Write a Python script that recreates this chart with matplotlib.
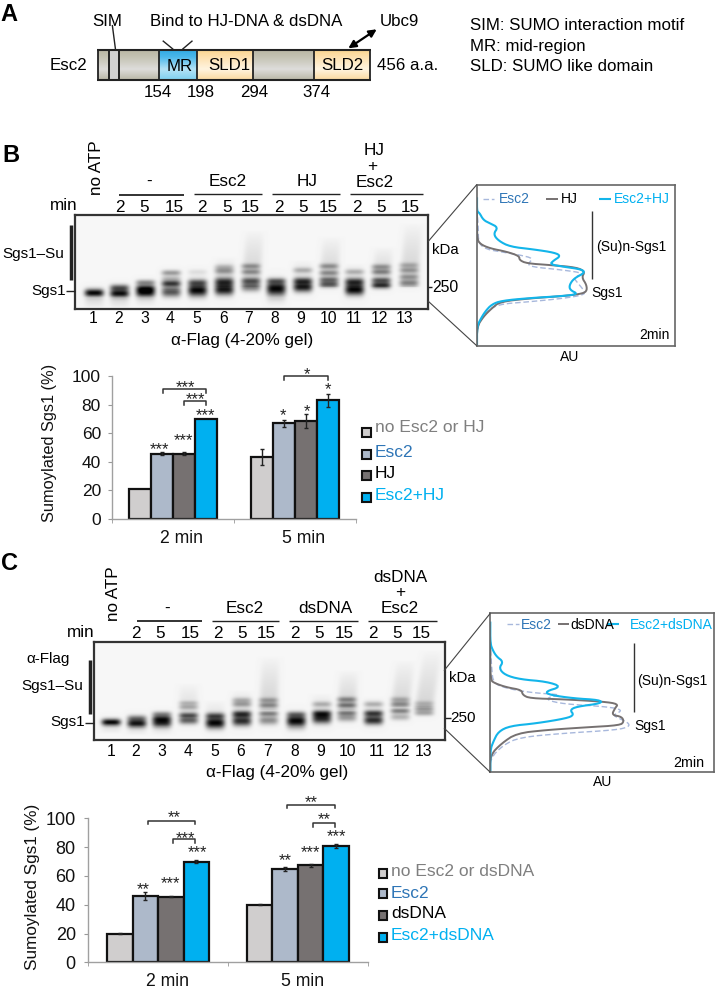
import numpy as np
import matplotlib
matplotlib.use('Agg')
import matplotlib.pyplot as plt
from matplotlib.patches import Rectangle

plt.rcParams['font.family'] = ['Liberation Sans', 'DejaVu Sans']

W, H = 715, 990
# ---------- bar data
groups = ['2 min', '5 min']
b_names = ['no Esc2 or HJ', 'Esc2', 'HJ', 'Esc2+HJ']
b_2min = [21, 45.5, 45.5, 70]
b_5min = [43, 67, 68.5, 83]
b_2min_err = [0, 1, 1, 0]
b_5min_err = [5.5, 2.5, 5, 4.5]
c_names = ['no Esc2 or dsDNA', 'Esc2', 'dsDNA', 'Esc2+dsDNA']
c_2min = [20, 46, 45.5, 70]
c_5min = [40, 65, 67.5, 81]
c_2min_err = [0.5, 2.5, 0.3, 0.8]
c_5min_err = [0.3, 1.5, 1, 1.5]
bar_colors = ['#d0cece', '#adb9ca', '#767171', '#00b0f0']
text_colors = ['#7f7f7f', '#2e75b6', '#000000', '#00b0f0']

# ---------- densitometry traces (x intensity, y migration)
b_cyan = [(141,527),(141,470),(150,450),(165,425),(185,403),(215,392),(300,384),(400,378),(445,372),(420,360),(418,345),(432,325),(465,308),(455,298),(400,290),(360,283),(370,272),(392,258),(375,248),(310,238),(240,230),(205,212),(190,192),(204,172),(180,160),(160,150),(148,128),(141,125),(141,85)]
b_grey = [(141,527),(141,470),(160,440),(185,415),(210,395),(300,385),(400,378),(450,372),(470,365),(470,345),(455,322),(465,305),(440,292),(360,285),(290,280),(268,270),(268,258),(230,245),(180,235),(150,222),(141,205),(141,125)]
b_dash = [(141,527),(141,470),(165,430),(200,403),(300,395),(400,385),(460,375),(465,365),(440,335),(430,322),(465,310),(400,300),(300,290),(295,280),(310,265),(270,255),(210,245),(170,238),(145,220),(145,170),(141,125)]
c_cyan = [(181,517),(181,450),(190,425),(205,395),(240,378),(320,370),(410,355),(432,345),(420,330),(440,320),(515,310),(510,300),(430,295),(360,285),(345,275),(395,260),(350,245),(270,238),(225,225),(207,205),(220,185),(200,170),(188,150),(181,130),(181,68)]
c_grey = [(181,517),(181,465),(215,430),(260,400),(350,390),(470,382),(570,376),(582,365),(575,350),(545,345),(555,325),(565,312),(520,305),(400,298),(300,295),(278,285),(275,270),(230,262),(195,250),(181,240),(181,130)]
c_dash = [(181,517),(181,475),(220,435),(270,412),(400,400),(560,390),(598,380),(595,368),(560,352),(550,345),(580,330),(530,320),(400,312),(350,300),(360,290),(400,285),(330,280),(285,275),(230,265),(190,250),(185,205),(181,130)]

# ---------- gel lanes: bands (y, strength, sigma), smears (top, bottom, strength, drift)
b_lane_x = [282,358,436,513,592,672,752,828,908,986,1063,1143,1226]
b_bands = [
 [(488,1.0,5)],
 [(490,.95,5),(473,.6,4)],
 [(488,.85,6),(475,.8,5),(457,.35,3)],
 [(485,.6,7),(460,.7,4),(445,.15,3),(428,.3,3)],
 [(480,1,9),(457,.5,4),(425,.05,3)],
 [(478,.9,8),(455,.7,6),(422,.3,4),(410,.15,3)],
 [(470,.45,6),(452,.5,4),(425,.3,3),(408,.3,3)],
 [(475,1,11),(452,.4,3)],
 [(470,.9,7),(452,.6,4),(420,.2,3)],
 [(462,.5,4),(448,.4,3),(428,.3,3),(408,.3,3)],
 [(478,1,8),(455,.7,5),(425,.2,3)],
 [(465,.7,4),(450,.5,3),(425,.35,3),(410,.3,3)],
 [(458,.3,4),(440,.25,3),(420,.25,3),(405,.2,3)],
]
b_smears = [
 [(505,535,.10,0)],[(505,535,.10,0)],[(505,530,.07,0)],[(430,480,.10,0)],
 [(420,470,.08,0)],[(380,470,.12,5)],[(300,470,.16,12)],[(505,530,.05,0)],
 [(390,460,.10,0)],[(320,470,.16,8)],[(400,470,.10,0)],[(350,470,.16,8)],[(280,470,.16,14)],
]
c_lane_x = [333,410,485,565,645,725,805,888,965,1040,1120,1200,1272]
c_bands = [
 [(516,1,4)],
 [(520,.9,5),(505,.45,4)],
 [(518,.8,6),(505,.65,4),(492,.35,3)],
 [(510,.55,5),(495,.5,3),(470,.2,3),(458,.15,2)],
 [(518,1,8),(497,.55,4)],
 [(512,.8,7),(492,.75,4),(462,.25,3),(450,.2,3)],
 [(510,.35,6),(490,.4,3),(465,.3,3),(450,.25,3)],
 [(512,1,9),(492,.35,3)],
 [(505,.8,7),(490,.7,4),(462,.2,3)],
 [(502,.3,5),(488,.4,3),(465,.4,3),(448,.35,3)],
 [(510,.8,6),(490,.7,4),(462,.2,3)],
 [(500,.2,4),(482,.4,3),(462,.3,3),(448,.2,3)],
 [(488,.25,3),(475,.3,3),(460,.15,3)],
]
c_smears = [
 [(525,550,.08,0)],[(530,555,.08,0)],[(530,555,.06,0)],[(400,500,.10,0)],
 [(450,500,.06,0)],[(420,490,.10,0)],[(320,480,.14,6)],[(530,550,.05,0)],
 [(430,490,.08,0)],[(360,480,.14,6)],[(440,490,.06,0)],[(330,470,.12,16)],[(300,470,.12,25)],
]

fig = plt.figure(figsize=(W/100, H/100), dpi=100)
ov = fig.add_axes([0, 0, 1, 1], zorder=5)
ov.set_xlim(0, W); ov.set_ylim(H, 0); ov.axis('off'); ov.patch.set_alpha(0)

def T(x, y, s, size=10.5, ha='center', va='center', **k):
    ov.text(x, y, s, fontsize=size, ha=ha, va=va, **k)
def L(xs, ys, c='k', lw=1, **k):
    ov.plot(xs, ys, color=c, lw=lw, solid_capstyle='butt', **k)
def px_axes(x0, y0, x1, y1, **k):
    return fig.add_axes([x0/W, 1-y1/H, (x1-x0)/W, (y1-y0)/H], **k)
def chaikin(p, n=2):
    p = np.array(p, float)
    for _ in range(n):
        q = np.empty((2*len(p), 2))
        q[0::2] = .75*p + .25*np.roll(p, -1, 0)
        q[1::2] = .25*p + .75*np.roll(p, -1, 0)
        p = np.vstack([p[:1], q[:-2], p[-1:]])
    return p

# ---------- panel A
def grad(x0, x1, stops):
    a = px_axes(x0, 49.5, x1, 80)
    a.axis('off')
    rows = np.linspace(0, 1, 64)
    arr = np.stack([np.interp(rows, [0, .25, .65, 1], [s[i] for s in stops]) for i in range(3)], -1)
    a.imshow(arr[:, None, :], aspect='auto', extent=(0, 1, 1, 0))
def hx(s):
    return matplotlib.colors.to_rgb(s)
grey_st = [hx('#b8b5a2'), hx('#c4c2b2'), hx('#dedddb'), hx('#bab7a6')]
grad(97.7, 159.3, grey_st); grad(252.7, 314, grey_st)
grad(159.3, 197.3, [hx('#2fa9e2'), hx('#4ab7ea'), hx('#b5e3f6'), hx('#7fd0f0')])
orange = [hx('#fbd48c'), hx('#fde0ae'), hx('#fff4e0'), hx('#fbd9a0')]
grad(197.3, 252.7, orange); grad(314, 370, orange)
ov.add_patch(Rectangle((109, 49.5), 10, 30.5, fc='#d2d2d2', ec='#222222', lw=1.4))
for xx in (97.7, 159.3, 197.3, 252.7, 314, 370):
    L([xx, xx], [49.5, 80], '#222222', 1.3)
L([97, 371], [49.5, 49.5], '#222222', 1.5); L([97, 371], [80, 80], '#222222', 1.5)
T(9, 14.5, 'A', 17, fontweight='bold')
A_SZ = 12.2
T(106.8, 21, 'SIM', A_SZ); T(246, 21, 'Bind to HJ-DNA & dsDNA', A_SZ); T(399.6, 21, 'Ubc9', A_SZ)
L([112.3, 115.5], [25, 49.5], '#222222', 1)
L([162.7, 173.2], [40.7, 49.3], '#222222', 1); L([192.5, 182.4], [40.7, 49.3], '#222222', 1)
ov.annotate('', xy=(376.7, 29.3), xytext=(348.3, 48.3), arrowprops=dict(arrowstyle='<|-|>', color='k', lw=1.6, shrinkA=0, shrinkB=0, mutation_scale=11))
T(68.7, 66, 'Esc2', A_SZ); T(408, 66, '456 a.a.', A_SZ)
T(179.7, 66.5, 'MR', A_SZ); T(229, 66, 'SLD1', A_SZ); T(342.8, 66, 'SLD2', A_SZ)
for x_, s_ in [(157.7, '154'), (200.7, '198'), (253.9, '294'), (316.7, '374')]:
    T(x_, 92.5, s_, A_SZ)
for y_, s_ in [(26, 'SIM: SUMO interaction motif'), (46, 'MR: mid-region'), (66.7, 'SLD: SUMO like domain')]:
    T(469.8, y_, s_, A_SZ, ha='left')

# ---------- gels
def gel(box, oy, lane_x, bands, smears, lw_half=9.0):
    x0, y0, x1, y1 = box
    xs = np.arange(x0, x1, 0.5); ys = np.arange(y0, y1, 0.5)
    X, Y = np.meshgrid(xs, ys)
    im = np.zeros_like(X)
    for lx, bl, sm in zip(lane_x, bands, smears):
        cx = lx/3
        prof = np.exp(-np.abs((X-cx)/lw_half)**4)
        for yb, s, sg in bl:
            im += s*prof*np.exp(-.5*((Y-(oy+yb/3))/((sg+2.5)/3))**2)
        for top, bot, s, drift in sm:
            t_, b_ = oy+top/3, oy+bot/3
            f = np.clip((Y-t_)/(b_-t_), 0, 1)
            if top > 500:
                f = 1-f
            shift = drift/3*(1-f) if top <= 500 else 0
            pr = np.exp(-np.abs((X-cx-shift)/lw_half)**4)
            im += .7*s*pr*f*((Y > t_) & (Y < b_))
    g = 0.965-0.95*np.clip(im, 0, 1)**0.8
    a = px_axes(x0, y0, x1, y1)
    a.imshow(g, cmap='gray', vmin=0, vmax=1, aspect='auto', interpolation='bilinear')
    a.set_xticks([]); a.set_yticks([])
    for s in a.spines.values():
        s.set_linewidth(1.6); s.set_color('#333333')

gel((75, 215, 428, 309), 130, b_lane_x, b_bands, b_smears)
gel((94, 642, 445, 740), 550, c_lane_x, c_bands, c_smears)

def gel_text(oy, heads, rules, minxy, min_x, min_y, num_x, num_y, flag, noatp, sz=12.3):
    for x_, y_, s_ in heads:
        T(x_/3, oy+y_/3, s_, sz)
    for i, (a_, b_, y_) in enumerate(rules):
        L([a_/3, b_/3], [oy+y_/3]*2, '#222222', 1.3 if i == 0 else 1.0)
    T(minxy[0]/3, oy+minxy[1]/3, 'min', sz)
    labs = ['2', '5', '15']*4
    for x_, s_ in zip(min_x, labs):
        T(x_/3, oy+min_y/3, s_, sz)
    for i, x_ in enumerate(num_x):
        T(x_/3, oy+num_y/3, str(i+1), 11.3)
    T(flag[0]/3, oy+flag[1]/3, '\u03b1-Flag (4-20% gel)', sz)
    T(noatp[0]/3, oy+noatp[1]/3, 'no ATP', sz, rotation=90)

gel_text(130, [(447,155,'-'),(683,155,'Esc2'),(921,155,'HJ'),(1121,62,'HJ'),(1116,108,'+'),(1125,157,'Esc2')],
         [(358,553,195),(583,785,192),(815,1020,192),(1050,1268,192)], (190,228),
         [361,433,524,607,680,752,838,910,985,1071,1143,1232], 232,
         [278,356,434,511,591,670,746,825,903,985,1061,1138,1213], 565, (727,630), (290,112))
gel_text(550, [(500,175,'-'),(735,175,'Esc2'),(975,175,'dsDNA'),(1200,82,'dsDNA'),(1200,128,'+'),(1198,175,'Esc2')],
         [(410,606,212),(636,838,212),(868,1073,212),(1103,1310,212)], (243,247),
         [408,480,570,655,727,800,885,958,1033,1118,1190,1265], 250,
         [333,408,486,565,643,723,802,885,963,1042,1130,1205,1272], 603, (830,667), (342,132))

T(11, 156, 'B', 17, fontweight='bold'); T(9, 564, 'C', 17, fontweight='bold')
# gel side labels B
T(33, 254, 'Sgs1\u2013Su', 11); L([70.7, 70.7], [225, 280], '#222222', 2.5)
T(65.5, 291, 'Sgs1', 11, ha='right'); L([65.5, 75], [291.3, 291.3], '#222222', 1)
T(431.7, 250, 'kDa', 10.8, ha='left'); L([428, 432], [287, 287], '#222222', 1); T(432.5, 287.3, '250', 11.3, ha='left')
# gel side labels C
T(47.7, 659, '\u03b1-Flag', 11); T(52.7, 686, 'Sgs1\u2013Su', 11); L([90, 90], [660, 714.3], '#222222', 2.5)
T(84.5, 722, 'Sgs1', 11, ha='right'); L([84.5, 94], [722.7, 722.7], '#222222', 1)
T(449, 677.7, 'kDa', 10.8, ha='left'); L([445, 451], [718.3, 718.3], '#222222', 1); T(450.7, 718.3, '250', 11, ha='left')

# ---------- insets
def inset(box, lim, traces):
    a = px_axes(*box, zorder=3)
    a.set_xlim(lim[0], lim[1]); a.set_ylim(lim[3], lim[2])
    a.set_xticks([]); a.set_yticks([])
    for s in a.spines.values():
        s.set_linewidth(1.2); s.set_color('#666666')
    for tr, c, lw, ls in traces:
        p = chaikin(tr)
        a.plot(p[:, 0], p[:, 1], color=c, lw=lw, ls=ls, solid_joinstyle='round')

dash_c = '#a8b8dc'; grey_c = '#767171'; cy_c = '#13b5ea'
inset((476.7, 184.7, 675, 345.7), (140, 735, 44, 527),
      [(b_dash, dash_c, 1, (0, (4, 2))), (b_grey, grey_c, 1.4, '-'), (b_cyan, cy_c, 1.5, '-')])
inset((490.3, 613.3, 714, 772.3), (181, 852, 40, 517),
      [(c_dash, dash_c, 1, (0, (4, 2))), (c_grey, grey_c, 1.4, '-'), (c_cyan, cy_c, 1.5, '-')])
L([428, 476.7], [241.7, 184.7], '#444444', .8); L([428, 476.7], [301, 345.7], '#444444', .8)
L([444, 490.3], [670.7, 613.3], '#444444', .8); L([444, 490.3], [728, 772.3], '#444444', .8)

zx = lambda v: 430+v/3
by = lambda v: 170+v/3
cy = lambda v: 600+v/3
L([zx(160), zx(192)], [by(88)]*2, dash_c, 1, ls=(0, (4, 2)))
T(zx(207), by(88), 'Esc2', 10, ha='left', color='#2e75b6')
L([zx(347), zx(385)], [by(88)]*2, grey_c, 1.4); T(zx(393), by(88), 'HJ', 10, ha='left')
L([zx(507), zx(543)], [by(88)]*2, cy_c, 1.5); T(zx(553), by(88), 'Esc2+HJ', 10, ha='left', color='#00b0f0')
L([zx(487), zx(487)], [by(122), by(328)], '#333333', 1)
T(zx(499), by(232), '(Su)n-Sgs1', 10, ha='left'); T(zx(485), by(370), 'Sgs1', 10, ha='left')
T(zx(628), by(495), '2min', 10, ha='left'); T(zx(420), by(562), 'AU', 10)

L([zx(232), zx(268)], [cy(72)]*2, dash_c, 1, ls=(0, (4, 2)))
T(zx(273), cy(74), 'Esc2', 10, ha='left', color='#2e75b6')
L([zx(385), zx(418)], [cy(72)]*2, grey_c, 1.4); T(zx(422), cy(74), 'dsDNA', 10, ha='left')
L([zx(530), zx(568)], [cy(72)]*2, cy_c, 1.5); T(zx(600), cy(74), 'Esc2+dsDNA', 10, ha='left', color='#00b0f0')
L([zx(613), zx(613)], [cy(130), cy(335)], '#333333', 1)
T(zx(622), cy(242), '(Su)n-Sgs1', 10, ha='left'); T(zx(612), cy(378), 'Sgs1', 10, ha='left')
T(zx(730), cy(488), '2min', 10.3, ha='left'); T(zx(517), cy(545), 'AU', 10)

# ---------- bar charts
def bars(box, v2, v5, e2, e5, width, ylabel_xy, lab_x, ysz, ypad):
    a = px_axes(*box, zorder=2)
    a.patch.set_alpha(0)
    a.set_xlim(0, 2); a.set_ylim(0, 100)
    offs = (np.arange(4)-1.5)*width
    for g, (vals, errs) in enumerate([(v2, e2), (v5, e5)]):
        a.bar(g+.5+offs, vals, width, color=bar_colors, edgecolor='#111111', lw=1.6, zorder=2)
        for o, v, e in zip(offs, vals, errs):
            if e > 0:
                a.errorbar(g+.5+o, v, yerr=e, color='#222222', lw=1, capsize=1.5, zorder=3)
    a.set_yticks(range(0, 101, 20))
    a.set_xticks(lab_x); a.set_xticklabels(groups)
    a.set_xticks([0, 1, 2], minor=True)
    a.tick_params(axis='x', which='major', length=0, labelsize=12.7, pad=8, labelcolor='#111111')
    a.tick_params(axis='x', which='minor', length=3, color='#999999')
    a.tick_params(axis='y', length=3, color='#999999', labelsize=ysz, labelcolor='#111111', pad=ypad)
    for s in ('top', 'right'):
        a.spines[s].set_visible(False)
    for s in ('left', 'bottom'):
        a.spines[s].set_color('#a0a0a0'); a.spines[s].set_linewidth(1)
    T(ylabel_xy[0], ylabel_xy[1], 'Sumoylated Sgs1 (%)', ylabel_xy[2], rotation=90, color='#111111')
    return a

bars((112, 376, 356, 518.7), b_2min, b_5min, b_2min_err, b_5min_err, 22/122, (50, 443, 11.8), [.566, 1.574], 12.5, 5)
bars((88.3, 818.3, 367.7, 962.3), c_2min, c_5min, c_2min_err, c_5min_err, 25.5/139.7, (33, 887, 12.3), [.57, 1.537], 13, 6)

def legend(names, x_s, x_t, ys, ty):
    for n, col, tc, y_, t_ in zip(names, bar_colors, text_colors, ys, ty):
        ov.add_patch(Rectangle((x_s, y_-4.5), 8.7, 9, fc=col, ec='#111111', lw=1.5))
        T(x_t, t_, n, 12.5, ha='left', color=tc)

legend(b_names, 362.3, 375, [432.5, 454, 475.5, 497], [428, 452.7, 474, 496])
legend(c_names, 378.5, 391, [873, 893.5, 915.5, 937], [871.7, 893, 914, 935.5])

def star(fx, fy, x, y, s):
    T(fx(x), fy(y)+2.5, s, 12, color='#222222')
def bracket(fx, fy, x0, x1, y0, y1):
    ov.plot([fx(x0), fx(x0), fx(x1), fx(x1)], [fy(y1), fy(y0), fy(y0), fy(y1)], color='#333333', lw=1.1)

bx4 = lambda v: 30+v/3
by4 = lambda v: 360+v/3
bracket(bx4, by4, 399, 528, 87, 98); star(bx4, by4, 465, 75, '***')
bracket(bx4, by4, 461, 528, 124, 136); star(bx4, by4, 497, 112, '***')
bracket(bx4, by4, 763, 895, 49, 60); star(bx4, by4, 830, 37, '*')
for x_, y_, s_ in [(387,260,'***'),(460,233,'***'),(527,158,'***'),(759,160,'*'),(832,148,'*'),(893,82,'*')]:
    star(bx4, by4, x_, y_, s_)
cx7 = lambda v: 20+v/3
cy7 = lambda v: 790+v/3
bracket(cx7, cy7, 383, 526, 92, 102); star(cx7, cy7, 463, 75, '**')
bracket(cx7, cy7, 459, 526, 148, 158); star(cx7, cy7, 495, 137, '***')
bracket(cx7, cy7, 802, 945, 44, 54); star(cx7, cy7, 875, 30, '**')
bracket(cx7, cy7, 878, 945, 99, 110); star(cx7, cy7, 913, 82, '**')
for x_, y_, s_ in [(369,290,'**'),(452,272,'***'),(532,180,'***'),(795,203,'**'),(872,180,'***'),(948,132,'***')]:
    star(cx7, cy7, x_, y_, s_)

fig.savefig('out.png', dpi=100)
